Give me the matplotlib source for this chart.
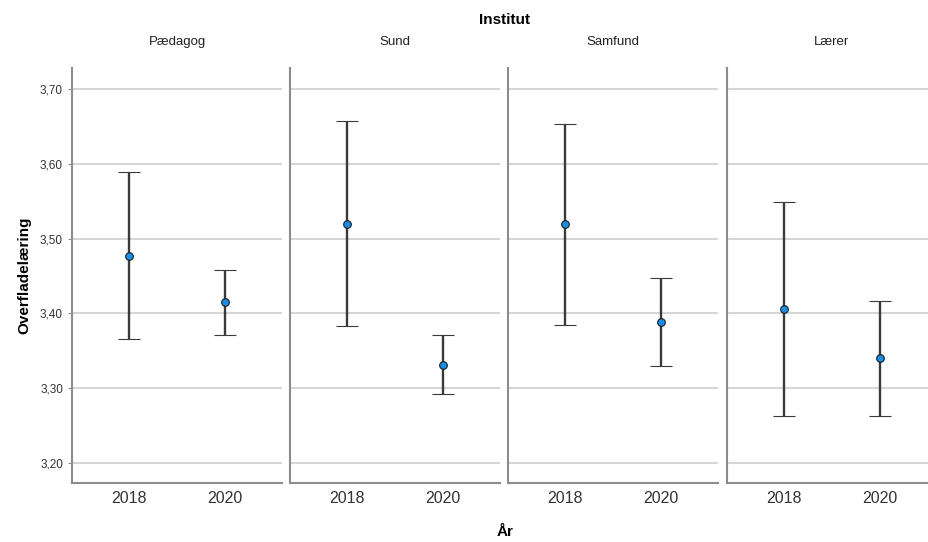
import matplotlib
matplotlib.use('Agg')
import matplotlib.pyplot as plt
from matplotlib.ticker import FuncFormatter

plt.rcParams['font.family'] = ['Liberation Sans Narrow', 'Liberation Sans', 'DejaVu Sans']

# data (mean with CI bounds)
institutes = ['Pædagog', 'Sund', 'Samfund', 'Lærer']
years = ['2018', '2020']
means = [[3.477, 3.415], [3.520, 3.331], [3.520, 3.388], [3.406, 3.340]]
lower = [[3.366, 3.371], [3.383, 3.292], [3.385, 3.329], [3.263, 3.263]]
upper = [[3.589, 3.458], [3.658, 3.371], [3.654, 3.447], [3.549, 3.417]]
yticks = [3.2, 3.3, 3.4, 3.5, 3.6, 3.7]

fig = plt.figure(figsize=(9.29, 5.42), dpi=100)
lefts = [72, 290, 508, 727]
W, H = 929, 542
axes = []
for i, name in enumerate(institutes):
    ax = fig.add_axes([lefts[i] / W, 1 - 483 / H, 210 / W, 415 / H])
    axes.append(ax)
    xs = [0, 1]
    m = means[i]
    yerr = [[m[j] - lower[i][j] for j in range(2)],
            [upper[i][j] - m[j] for j in range(2)]]
    ax.errorbar(xs, m, yerr=yerr, fmt='o', color='#3a3a3a', ecolor='#3a3a3a',
                elinewidth=1.7, capsize=8, capthick=2.0,
                markerfacecolor='#1a8ee6', markeredgecolor='#1a1a1a',
                markersize=5.5, markeredgewidth=0.8, zorder=3)
    ax.set_xlim(-0.6, 1.6)
    ax.set_ylim(3.173, 3.7285)
    ax.set_yticks(yticks)
    ax.yaxis.grid(True, color='#d6d6d6', linewidth=1.5)
    ax.set_axisbelow(True)
    ax.set_xticks(xs)
    ax.set_xticklabels(years, fontsize=11.5, color='#333333')
    for s in ['top', 'right']:
        ax.spines[s].set_visible(False)
    for s in ['left', 'bottom']:
        ax.spines[s].set_color('#8c8c8c')
        ax.spines[s].set_linewidth(1.5)
    ax.tick_params(axis='x', length=0, pad=6)
    if i == 0:
        ax.yaxis.set_major_formatter(FuncFormatter(lambda v, p: f'{v:.2f}'.replace('.', ',')))
        ax.tick_params(axis='y', length=3, colors='#333333', labelsize=8.5, width=0.8)
        ax.tick_params(axis='y', color='#8c8c8c')
        ax.set_ylabel('Overfladelæring', fontsize=11, fontweight='bold', labelpad=6)
    else:
        ax.tick_params(axis='y', length=0, labelleft=False)
    ax.set_title(name, fontsize=9.5, color='#222222', pad=16.5)

fig.text(505 / W, 1 - 20 / H, 'Institut', ha='center', va='center',
         fontsize=11, fontweight='bold')
fig.text(505 / W, 1 - 532 / H, 'År', ha='center', va='center',
         fontsize=11, fontweight='bold')

fig.savefig('out.png', dpi=100, facecolor='white')
